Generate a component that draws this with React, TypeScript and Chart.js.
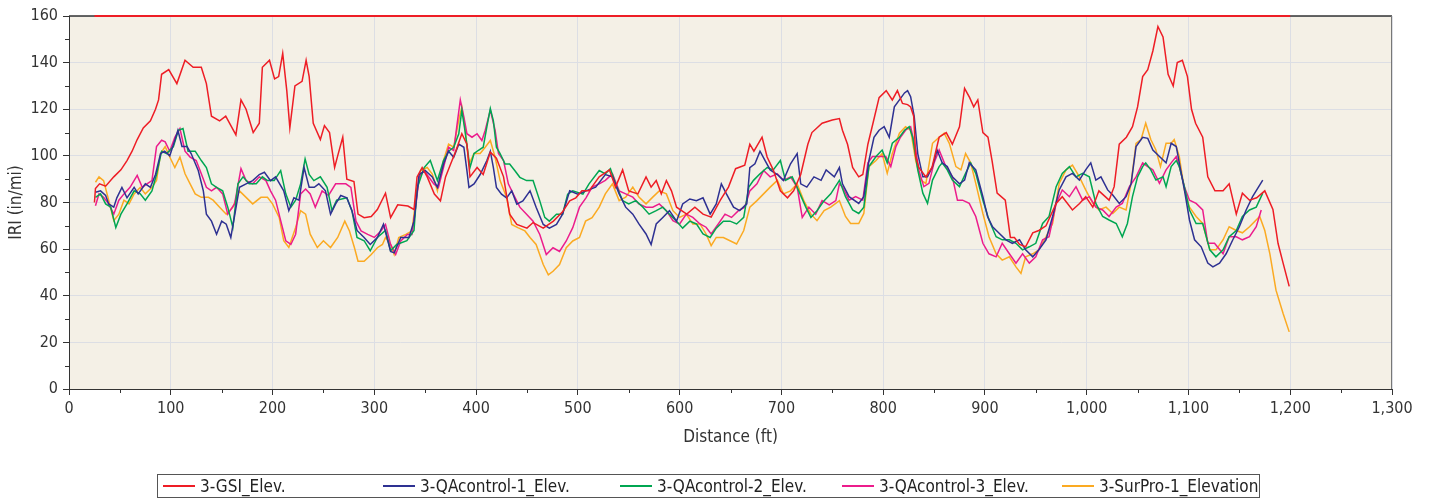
import React, { useEffect, useRef } from "react";
import { Chart, registerables } from "chart.js";

Chart.register(...registerables);

const seriesNames = ["3-GSI_Elev.", "3-QAcontrol-1_Elev.", "3-QAcontrol-2_Elev.", "3-QAcontrol-3_Elev.", "3-SurPro-1_Elevation"];
const seriesColors = ["#EE1D25", "#2E3192", "#00A651", "#EC1C8C", "#FBAA22"];

const xTicks = [0, 100, 200, 300, 400, 500, 600, 700, 800, 900, 1000, 1100, 1200, 1300];
const yTicks = [0, 20, 40, 60, 80, 100, 120, 140, 160];

const limitX = [25, 1200];
const limitY = [160, 160];

const gsiX = [25,26,30,36,44,51,57,62,67,73,80,85,88,91,98,106,114,122,130,135,140,148,154,164,169,174,181,187,190,197,202,206,210,214,217,222,229,233,236,240,247,251,256,261,264,269,273,280,284,290,297,303,311,316,323,333,339,342,347,352,359,365,370,375,380,386,391,394,401,407,414,420,427,433,440,450,456,466,476,485,492,498,504,511,521,531,537,544,550,559,567,572,577,582,587,592,597,607,615,623,631,640,648,655,664,669,673,681,686,692,699,706,712,719,726,730,740,750,757,760,765,770,776,780,785,790,796,803,809,814,819,824,827,830,832,835,842,848,855,862,868,875,880,885,889,893,898,903,907,912,920,925,929,934,940,947,953,960,970,976,986,993,999,1006,1012,1022,1027,1032,1039,1045,1050,1055,1060,1065,1070,1075,1080,1085,1089,1094,1099,1103,1107,1114,1119,1126,1134,1140,1147,1153,1160,1167,1175,1183,1188,1193,1199];
const gsiY = [80,86,88,87,91,94,98,102,107,112,115,120,124,135,137,131,141,138,138,131,117,115,117,109,124,120,110,114,138,141,133,134,144,128,112,130,132,141,134,114,107,113,110,95,100,108,90,89,75,73.5,74,77,84,73.5,79,78.5,77,91,95,91,83.6,80.7,91,96.5,102,109.5,105,91,95,92,101.6,99,91,75,70.6,69,71.4,69,72,76,80.7,82,85,85,91,94,86.6,94,85,83.7,91,86.6,89.4,83.7,89.4,85,78,75,78,75,73.7,81,86.6,94.5,96,105,102,108,99.5,94,85,82,85,92,105,110,114,115.4,116,111,105,95,91,92,105,114,125,128,124,128,122.5,122,121,117,99.7,95,91,95,108,110,105,112.5,129,125,121,124,110,108,98,84,81,65,65,62,61,67,68,70,79.6,82.5,76.8,79.6,82.5,78,85,81,86.8,105,108,112.5,121,134,137,145,155.5,151,135,130,140,141,134,120,114,108,91,85,85,88,75,84,81,82,85,77,62.5,54,44];

const qa1X = [26,31,36,39,44,47,52,57,64,68,75,80,85,90,94,99,104,107,111,116,120,127,132,135,140,145,150,154.5,159,163,167.5,174,180.5,187,192,198,203,211,216,221,226,231,236,241,245.5,252,257,262,267,273,278,283,290,296,303,309,316,319.5,326,334,339,344,350,357,362,368,373,378,383,388,391,393,398,404,410.6,414,417,420,425,430,435,440,446,453,459,466,472,479,485,492,500,508,517.5,527,534,540.6,547,554,560,567,572,577,583.5,590,597,603,610,616.5,623,630,636,641,646,653,659,666,669,674,679,684,689,696,702,709,715.5,719,725,732,739,744,752,757,760,766.5,776,781,786,791,796,801,806,811,816,821,824,827,830.5,834,839,843.6,848.5,853,858,863,868,875,880,884.6,891,898,902.6,907.5,914,920.6,927,934,940,947,953,960,966.5,973,979.7,986,992.8,999,1004,1009,1014,1020.6,1025.6,1032,1038.7,1043.6,1048.5,1055,1060,1065,1071.5,1078,1083,1088,1091,1096,1101,1106,1112.5,1119,1124,1130.5,1137,1143.6,1150,1156.7,1163,1173];
const qa1Y = [84.4,85,83,79.4,78,82,86.5,82,86.5,83.7,88,86.5,92,101,102,100,106.7,111,104,104,101,93.7,85,75,72,66.4,72,70.7,65,75,86.5,88,89.4,92,93,89.4,91,85,76.5,82,81,95,86.5,86.5,88,85,75,79.4,83,82,76.5,68,65,62,65,70.7,59,58.4,65,65,72,92,93.7,91,86.5,96.5,102,99.4,105,103.7,93.7,86.5,88,92,98,102,95,86.5,83.6,82,85,79.3,80.7,85,78,70.6,69,70.6,75,85,83.6,85,86.6,92,91,83.7,78,75,70.8,66.5,62,70.8,73.6,76.5,72,79.4,81.5,80.8,82,75,79.4,88,83.7,78,76.5,79.4,95,96.6,102,98,94,92,89.5,96.6,101,88,86.6,91,89.5,94,91,95,88,82.5,79.6,82.5,98,108,111,112.5,108,121,124,127,128,125.4,117,101,91,91,95.4,102.5,97,95.4,91,88,89.6,97,94,82.5,74,69.6,66.8,64,62.5,64,59.7,56.7,59.7,64,74,85.4,91,92.5,89.6,94,97,89.6,91,85.4,83.2,79.6,82.5,88,104,108,107.5,102.5,99.7,97,105.4,104,97,85.4,72.5,64,61,54,52.4,54,58,64,69.6,76.8,82.5,89.6];

const qa2X = [26,31,36,41,46,51,57,64,70,75,81.5,86,91,96,102.6,107.5,112,117,124,130,135,140,145,151,156,161,166,171,177,184,190,195,201.6,208,213,218,222.7,227.6,232,236,240.6,247,253.6,258.4,263,273,278,283,290,296,303,311,316,322,332,339,342,349,355,362,368,373,378,383,386,389,394,398,402,407,410.6,414,417,420,423.6,428.5,433,438,443,449.6,456,462.6,467.5,472,479,485,490,495,505,511,521,527,532,537,544,550,557,564,570,577,583.5,590,597,603,610,616.5,623,630,636,643,649.5,656,663,668,672.6,679,686,692,699,704,710.6,717,724,729,735,742,748.5,757,763,770,776,781,786,793,799,804,809,816,821,825.6,829,834,839,843.6,848.5,855,858,863,868,875,881,886,891,898,904,911,917,924,930.5,937,943.6,950,956.7,963,970,976,983,989.5,996,1002.6,1009,1015.7,1022,1029,1035,1040,1045,1050,1055,1058,1063,1068,1075,1078,1083,1088,1091,1096,1101,1107.5,1114,1121,1127,1134,1140,1147,1153,1160,1166.6,1173];
const qa2Y = [82.2,83.7,79.4,78,69.3,75,79.4,85,83.7,81,85,92,102,101,104,111,111.7,102,102,98,95,88,86.5,85,78,69.3,88,91,88,88,91,89.4,89.4,93.7,83.7,78,81,88,98.7,92,89.4,91,86.5,76.5,81,82,76.5,65,63.6,59.3,65,68,59.3,62,63.6,68,86,95,98,89.4,98,102,103.7,109.5,119.6,111,95,101,102.3,103.7,112.4,120.3,115,103.7,101,96.5,96.5,93.7,90.8,89.4,89.4,80.7,73.6,72,75,75,83.6,85,83.6,88,93.7,92.3,94.5,88,80.8,79.4,80.8,78,75,76.5,78,75,72,69,72,70.8,66.5,65,69,72,72,70.8,73.6,86.6,89.5,92.3,95,94,98,89.5,91,85,78,73.6,76.5,80.8,83.7,89.5,82.5,76.8,75.3,78,95.4,99.7,102.5,97,105.4,108,111,112.5,108,94,84,79.6,89.6,95.4,97,94,89.6,86.8,92.5,97,92.5,81,72.5,65.3,64,64,62.5,59.7,61,62.5,71,74,86.8,92.5,95.4,91,92.5,91,79.6,74,72.5,71,65.3,71,82.5,91,95.4,97,94,89.6,91,86.8,95.4,98,95.4,86.8,76.8,71,71,59.7,56.7,59.7,65.3,68,74,76.8,78,84];

const qa3X = [26,29.5,34,39,44,49,54,60,67,72,76.6,81.5,86,91,94.5,99,104,109,114,119,125,130,135,140,145,151,156,162.7,169,174,180.5,187,193.5,198,203,208,213,218,222.7,227.6,232.5,237,242,248.7,255,262,272,277,282,287,293.5,300,306.5,311,316,321,326,332.5,337,340.6,344,349,353.7,358.5,363,368,373,378,381,384.5,388,391,396,401,405.7,409,414,418.7,422,427,431.7,436.6,443,449.6,456,462.6,469,475.6,482,488.6,495,501.6,508,514,521,527,534,540.6,547,554,560,567,573.6,580,587,593.4,600,606.6,613,620,626,631,638,644.6,651,657.8,664,669,676,682.5,689,696,702,709,715.5,720.5,727,733.7,740,747,753.5,757,760,766.5,773,780,785,789.5,796,802.6,807.5,812.5,817,822,827,832,835,840,845,850,855,861.6,868,873,878,884.6,891,898,904,911,917,924,930.5,937,943.6,950,956.7,963,970,976,983,989.5,996,1002.6,1009,1015.7,1022,1029,1035,1042,1048.5,1055,1060,1065,1071.5,1078,1083,1088,1091,1096,1101,1107.5,1114,1119,1125.6,1134,1140,1147,1153,1160,1166.6,1171.5];
const qa3Y = [78.6,83.7,82.2,79.4,75,81,83.7,86.5,91.6,86.5,88,89.4,104,106.7,106,102,108,111.7,102,99.5,98,92.3,86.5,85,86.5,83.7,75,79.4,94.5,89.4,88,91,89.4,85,81,72.2,63.6,62,66.4,83.7,85.8,83.7,78,85,83,88,88,86.5,72,67.8,66.3,65,67.8,70.6,62,57.7,63.5,66.3,66.3,77.8,90.8,93.7,90.8,88,86.5,95,103.7,102.3,112.4,124,116.7,109.5,108,109.5,106.6,111,119.6,111,101,98,88,83.6,78,75,72,66.3,57.7,60.6,59,63.5,69.2,78,82,86.6,88,89.5,92.3,85,83.7,82.3,79.4,78,78,79.4,76.5,72.2,70.8,75,73.6,70.8,69.4,66.5,70.8,75,73.6,76.5,78,85,88,93.7,91,92.3,89.5,91,86.6,73.6,78,75,80.8,79,80.8,88,86.8,81,82.5,81,97,99.7,99.7,99.7,95.4,104,108,111,112.5,102.5,94,86.8,88.2,97,102.5,95.4,91,81,81,79.6,74,62.5,58,56.7,62.5,58,54,58,54,56.7,64,65.3,79.6,85.4,82.5,86.8,81,82.5,78,76.8,74,78,79.6,86.8,91,97,95.4,94,88.2,94,97,99.7,95.4,86.8,81,79.6,76.8,62.5,62.5,58,65.3,65.3,64,65.3,69.6,76.8];

const surX = [26,29.5,34,39,44,49,54,59,64,70,75,81.5,86,90,94.5,99,104,109,114,119,124,130,137,141.6,148,154.5,161,167.5,174,180.5,188.6,195,200,206.5,211,216,222.7,227.6,232.5,237,244,250,257,264,271,275.6,280.5,284,290,297,303,308,311,316,319.5,324,331,337,340.6,345.5,352,357,362,368,373,378,383,386,389,393,398,404,409,414,418.7,423.6,430,435,441,448,453,459,466,471,475.6,482,488.6,495,501.6,507.6,514,521,527,534,540.6,547,554,560,567,573.6,580,587,593.4,600,606.6,613,620,626,631,636,643,649.5,656,663,669,676,682.5,689,696,702,709,715.5,722,729,735,742,748.5,757,763,768,776,781,786,793,799,804,809,816,822,827,832,837,842,848.5,855,860,865,871.5,876.4,881,886,891,898,904,911,917,924,930.5,935.4,940,947,953,960,966.5,973,979.7,986,992.8,999,1006,1012,1019,1025.6,1032,1038.7,1043.6,1048.5,1053.4,1058,1063,1068,1072.5,1078,1083,1086,1091,1096,1101,1107.5,1114,1121,1127,1134,1140,1147,1153,1160,1170,1175,1180,1186,1193,1199];
const surY = [88.7,91,89.4,81,72.2,75,81,79.4,83.7,86.5,83.7,86.5,89.4,101,104,99.5,95,99.5,92.3,88,83.7,82.2,82.2,81,78,75,78,85,82.2,79.4,82.2,82.2,79.4,73.6,63.6,60.7,69.3,76.5,75,66.4,60.7,63.6,60.7,65,72,67.8,60.6,54.8,54.8,57.7,60.6,62,65,62,57.7,65,66.3,67.8,80.7,93.7,95,92.2,85,98,105,103.7,115.3,121,112.4,96.5,101,101,103.7,106.6,99.4,89.4,82.2,70.6,69.2,67.8,65,62,53.4,49,50.5,53.4,60.6,63.5,65,72,73.5,78,83.7,88,80.8,82.3,86.6,82.3,79.4,82.3,85,83.7,76.5,73.6,75,70.8,70.8,66.5,61.5,65,65,63.6,62.2,68,78,80.8,83.7,86.6,89.5,83.7,85,88,80.8,75,72.2,76.5,78,80.8,74,71,71,75.3,95.4,98,101,92.5,101,109.7,112.5,111,98,89.6,88.2,105.4,108,109.7,105.4,95.4,94,101,97,88.2,75.3,65.3,58,55.3,56.7,52.4,49.6,56.7,58,59.7,65.3,71,88.2,94,96,91,85.4,79.6,76.8,78,75.3,78,76.8,88.2,105.4,107,114,107,102.5,95.4,105.4,105.4,107,99.7,85.4,78,74,71,59.7,59.7,64,69.6,68,67,69.6,74,68,58,42.4,32.4,24.5];

const seriesX = [gsiX, qa1X, qa2X, qa3X, surX];
const seriesY = [gsiY, qa1Y, qa2Y, qa3Y, surY];

const FONT = '"DejaVu Sans Condensed", "DejaVu Sans", sans-serif';

const zip = (xs: number[], ys: number[]) => xs.map((x, i) => ({ x, y: ys[i] }));

const framePlugin = {
  id: "frame",
  beforeDraw(chart: any) {
    const { ctx, chartArea } = chart;
    ctx.save();
    ctx.fillStyle = "#F4F0E6";
    ctx.fillRect(chartArea.left, chartArea.top, chartArea.right - chartArea.left, chartArea.bottom - chartArea.top);
    ctx.restore();
  },
  beforeDatasetsDraw(chart: any) {
    const { ctx, chartArea } = chart;
    const { left, right, top } = chartArea;
    ctx.save();
    ctx.strokeStyle = "#333";
    ctx.lineWidth = 1.5;
    ctx.beginPath();
    ctx.moveTo(left, top);
    ctx.lineTo(right, top);
    ctx.stroke();
    ctx.restore();
  },
  afterDraw(chart: any) {
    const { ctx, chartArea, scales } = chart;
    const { left, right, top, bottom } = chartArea;
    ctx.save();
    ctx.strokeStyle = "#777";
    ctx.lineWidth = 1;
    ctx.beginPath();
    ctx.moveTo(right - 0.5, top);
    ctx.lineTo(right - 0.5, bottom);
    ctx.stroke();
    ctx.strokeStyle = "#333";
    ctx.beginPath();
    for (let v = 10; v < 160; v += 20) {
      const y = Math.round(scales.y.getPixelForValue(v)) + 0.5;
      ctx.moveTo(left - 4, y);
      ctx.lineTo(left, y);
    }
    for (let v = 50; v < 1300; v += 100) {
      const x = Math.round(scales.x.getPixelForValue(v)) + 0.5;
      ctx.moveTo(x, bottom);
      ctx.lineTo(x, bottom + 4);
    }
    ctx.stroke();
    ctx.restore();
  },
};

export default function App() {
  const ref = useRef<HTMLCanvasElement | null>(null);
  useEffect(() => {
    if (!ref.current) return;
    const datasets: any[] = seriesNames.map((name, i) => ({
      label: name,
      data: zip(seriesX[i], seriesY[i]),
      borderColor: seriesColors[i],
      backgroundColor: seriesColors[i],
      borderWidth: 1.5,
      pointRadius: 0,
      tension: 0,
      fill: false,
    }));
    datasets.push({
      label: "limit",
      data: zip(limitX, limitY),
      borderColor: seriesColors[0],
      borderWidth: 2,
      pointRadius: 0,
      clip: false,
      fill: false,
    });
    const chart = new Chart(ref.current, {
      type: "line",
      data: { datasets },
      plugins: [framePlugin],
      options: {
        animation: false,
        responsive: false,
        maintainAspectRatio: false,
        layout: { padding: { left: 0, top: 16, right: 42, bottom: 51 } },
        plugins: { legend: { display: false }, tooltip: { enabled: false } },
        scales: {
          x: {
            type: "linear",
            min: 0,
            max: 1300,
            afterBuildTicks: (s: any) => { s.ticks = xTicks.map((v) => ({ value: v })); },
            afterFit: (s: any) => { s.height = 60; },
            ticks: {
              padding: 4,
              color: "#333",
              font: { family: FONT, size: 16 },
              maxRotation: 0,
              callback: (v: any) => Number(v).toLocaleString("en-US"),
            },
            grid: { color: "#DCDEE4", lineWidth: 1, tickLength: 6, tickColor: "#333" },
            border: { color: "#333", width: 1 },
            title: { display: true, text: "Distance (ft)", color: "#333", font: { family: FONT, size: 17 }, padding: { top: 0, bottom: 1 } },
          },
          y: {
            type: "linear",
            min: 0,
            max: 160,
            afterBuildTicks: (s: any) => { s.ticks = yTicks.map((v) => ({ value: v })); },
            afterFit: (s: any) => { s.width = 69; },
            ticks: { padding: 5, color: "#333", font: { family: FONT, size: 16 } },
            grid: { color: "#DCDEE4", lineWidth: 1, tickLength: 6, tickColor: "#333" },
            border: { color: "#333", width: 1 },
            title: { display: true, text: "IRI (in/mi)", color: "#333", font: { family: FONT, size: 17 }, padding: { top: 6, bottom: 0 } },
          },
        },
      },
    });
    return () => chart.destroy();
  }, []);

  const legendX = [163, 383, 620, 842, 1062];
  return (
    <div style={{ position: "absolute", left: 0, top: 0, width: 1434, height: 500, background: "#fff" }}>
      <canvas ref={ref} width={1434} height={500} style={{ display: "block" }} />
      <div style={{ position: "absolute", left: 157, top: 474, width: 1101, height: 22, border: "1px solid #555", boxSizing: "content-box" }} />
      {seriesNames.map((n, i) => (
        <div key={n} style={{ position: "absolute", left: legendX[i], top: 475, height: 22, display: "flex", alignItems: "center", fontFamily: FONT, fontSize: 17, color: "#222", whiteSpace: "nowrap" }}>
          <span style={{ display: "inline-block", width: 32, height: 2, background: seriesColors[i], marginRight: 5 }} />
          <span>{n}</span>
        </div>
      ))}
    </div>
  );
}
